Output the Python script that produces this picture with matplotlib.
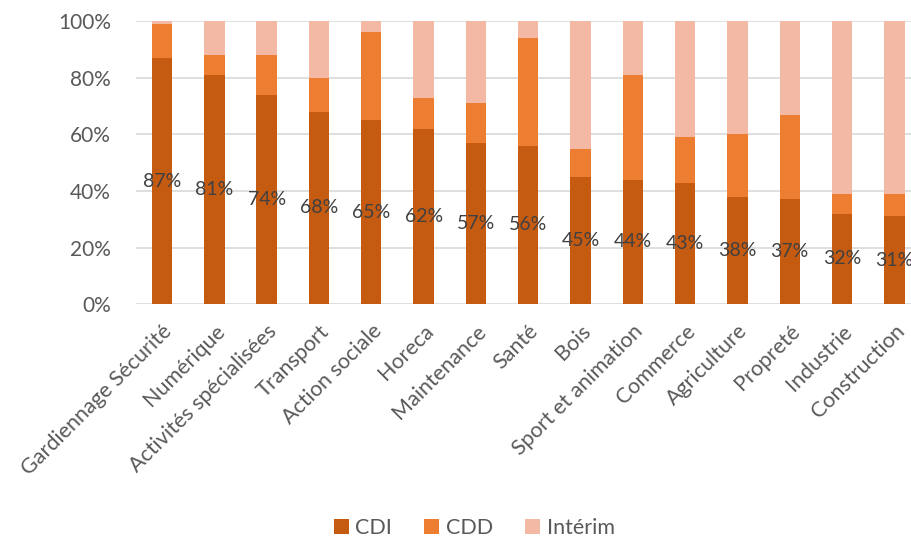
import matplotlib
matplotlib.use("Agg")
import matplotlib.pyplot as plt
import numpy as np
from matplotlib.ticker import PercentFormatter

plt.rcParams['font.family'] = ['Lato', 'DejaVu Sans']

secteurs = ['Gardiennage Sécurité', 'Numérique', 'Activités spécialisées', 'Transport',
            'Action sociale', 'Horeca', 'Maintenance', 'Santé', 'Bois',
            'Sport et animation', 'Commerce', 'Agriculture', 'Propreté',
            'Industrie', 'Construction']
cdi = [87, 81, 74, 68, 65, 62, 57, 56, 45, 44, 43, 38, 37, 32, 31]
cdd = [12, 7, 14, 12, 31, 11, 14, 38, 10, 37, 16, 22, 30, 7, 8]
interim = [100 - a - b for a, b in zip(cdi, cdd)]

c_cdi = '#C55A11'
c_cdd = '#ED7D31'
c_int = '#F4B9A5'
txt = '#595959'

fig = plt.figure(figsize=(9.12, 5.39), dpi=100)
ax = fig.add_axes([0.149, 0.4354, 0.8603, 0.5256])

x = np.arange(len(secteurs))
w = 0.39
ax.bar(x, cdi, w, color=c_cdi, label='CDI', zorder=2)
ax.bar(x, cdd, w, bottom=cdi, color=c_cdd, label='CDD', zorder=2)
ax.bar(x, interim, w, bottom=np.array(cdi) + np.array(cdd), color=c_int, label='Intérim', zorder=2)

# étiquettes CDI au milieu de la barre
for xi, v in zip(x, cdi):
    ax.text(xi, v / 2, f'{v}%', ha='center', va='center', fontsize=14, color='#404040', zorder=3)

ax.set_xlim(-0.5, len(secteurs) - 0.5)
ax.set_ylim(0, 100)
ax.set_yticks(range(0, 101, 20))
ax.yaxis.set_major_formatter(PercentFormatter(decimals=0))
ax.grid(axis='y', color='#D9D9D9', linewidth=1.2, zorder=0)
ax.set_axisbelow(True)
for s in ax.spines.values():
    s.set_visible(False)
ax.tick_params(axis='both', length=0, labelsize=15, labelcolor=txt)
ax.tick_params(axis='y', pad=18)
ax.set_xticks(x)
ax.set_xticklabels(secteurs, rotation=45, ha='right', rotation_mode='anchor', fontsize=15.5)
ax.tick_params(axis='x', pad=12)

handles, labels = ax.get_legend_handles_labels()
fig.legend(handles, labels, loc='lower center', bbox_to_anchor=(0.52, -0.035), ncol=3,
           frameon=False, fontsize=15.5, labelcolor=txt, handlelength=0.7, handleheight=0.7,
           handletextpad=0.3, columnspacing=1.5)

fig.savefig('out.png', dpi=100, facecolor='white')
